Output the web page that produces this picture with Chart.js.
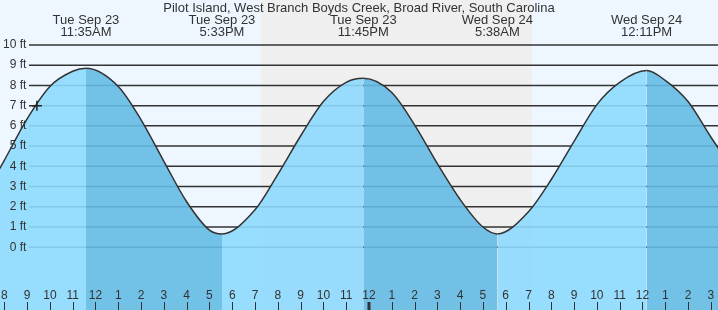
<!DOCTYPE html>
<html>
<head>
<meta charset="utf-8">
<script src="https://cdn.jsdelivr.net/npm/chart.js@4.4.1/dist/chart.umd.min.js"></script>
<style>
  html, body { margin: 0; padding: 0; background: #eef7ff; overflow: hidden; }
  #wrap { width: 718px; height: 310px; }
</style>
</head>
<body>
<div id="wrap"><canvas id="tideChart" width="718" height="310"></canvas></div>
<script>
const chartTitle = 'Pilot Island, West Branch Boyds Creek, Broad River, South Carolina';

// hours counted from Tue Sep 23 00:00
const tideHours = [7, 8, 9, 10, 11, 11.583, 13, 14, 15, 16, 17, 17.55, 19, 20, 21, 22, 23, 23.75,
    25, 26, 27, 28, 29, 29.633, 31, 32, 33, 34, 35, 36.183, 37, 38, 39, 40];
const tideFeet = [2.3, 4.3, 6.35, 7.95, 8.7, 8.85, 7.95, 6.3, 4.25, 2.25, 0.85, 0.66, 1.85, 3.6, 5.5, 7.2, 8.15, 8.35,
    7.65, 6.05, 4.13, 2.36, 1.0, 0.66, 1.76, 3.35, 5.23, 7.05, 8.15, 8.73, 8.25, 7.2, 5.45, 3.8];

const extremeHours = [11.583, 17.55, 23.75, 29.633, 36.183];
const extremeDays = ['Tue Sep 23', 'Tue Sep 23', 'Tue Sep 23', 'Wed Sep 24', 'Wed Sep 24'];
const extremeTimes = ['11:35AM', '5:33PM', '11:45PM', '5:38AM', '12:11PM'];

const nightHours = [19.26, 31.15];
const nowHour = [9.43];
const nowFeet = [7.0];

const hourTicks = [8, 9, 10, 11, 12, 13, 14, 15, 16, 17, 18, 19, 20, 21, 22, 23, 24,
    25, 26, 27, 28, 29, 30, 31, 32, 33, 34, 35, 36, 37, 38, 39];
const feetTicks = [0, 1, 2, 3, 4, 5, 6, 7, 8, 9, 10];

const lightFill = 'rgba(141, 217, 253, 0.9)';
const darkFill = 'rgba(100, 186, 227, 0.9)';
const ink = '#333';
const gridStartX = 29;
const fontFamily = '"Liberation Sans", Arial, sans-serif';

const backdrop = {
    id: 'backdrop',
    beforeDraw(chart) {
        const {ctx, chartArea, scales: {x, y}} = chart;
        ctx.save();
        ctx.fillStyle = '#eef7ff';
        ctx.fillRect(0, 0, chart.width, chart.height);
        const x0 = x.getPixelForValue(nightHours[0]);
        const x1 = x.getPixelForValue(nightHours[1]);
        ctx.fillStyle = '#efefef';
        ctx.fillRect(x0, 0, x1 - x0, chart.height);
        ctx.strokeStyle = ink;
        ctx.lineWidth = 1.5;
        feetTicks.forEach(v => {
            const py = y.getPixelForValue(v);
            ctx.beginPath();
            ctx.moveTo(gridStartX, py);
            ctx.lineTo(chartArea.right, py);
            ctx.stroke();
        });
        ctx.restore();
    }
};

const overlay = {
    id: 'overlay',
    afterDraw(chart) {
        const {ctx, chartArea, scales: {x}} = chart;
        ctx.save();
        ctx.strokeStyle = ink;
        hourTicks.forEach(h => {
            const midnight = h % 24 === 0;
            const px = Math.round(x.getPixelForValue(h)) + (midnight ? 0 : 0.5);
            ctx.lineWidth = midnight ? 3 : 1;
            ctx.beginPath();
            ctx.moveTo(px, chartArea.bottom - 8);
            ctx.lineTo(px, chartArea.bottom);
            ctx.stroke();
        });

        ctx.fillStyle = ink;
        ctx.font = '13px ' + fontFamily;
        ctx.textAlign = 'center';
        ctx.textBaseline = 'alphabetic';
        ctx.fillText(chartTitle, chart.width / 2, 12);
        extremeHours.forEach((h, i) => {
            const px = x.getPixelForValue(h);
            ctx.fillText(extremeDays[i], px, 24);
            ctx.fillText(extremeTimes[i], px, 36);
        });
        ctx.restore();
    }
};

function noPadding(scale) {
    scale.paddingTop = 0;
    scale.paddingBottom = 0;
    scale.paddingLeft = 0;
    scale.paddingRight = 0;
    if (scale.isHorizontal()) {
        scale.height = 0;
    } else {
        scale.width = 0;
    }
}

new Chart(document.getElementById('tideChart'), {
    type: 'line',
    data: {
        datasets: [{
            data: nowHour.map((h, i) => ({x: h, y: nowFeet[i]})),
            order: 0,
            showLine: false,
            fill: false,
            pointStyle: 'cross',
            pointRadius: 5,
            pointBorderColor: '#222',
            pointBorderWidth: 1.5
        }, {
            data: tideHours.map((h, i) => ({x: h, y: tideFeet[i]})),
            order: 1,
            borderColor: ink,
            borderWidth: 1.5,
            pointRadius: 0,
            cubicInterpolationMode: 'monotone',
            fill: 'start',
            backgroundColor: lightFill,
            segment: {
                backgroundColor: c => c.p1.parsed.y < c.p0.parsed.y ? darkFill : lightFill
            }
        }]
    },
    options: {
        responsive: false,
        animation: false,
        devicePixelRatio: 1,
        layout: { padding: 0, autoPadding: false },
        plugins: {
            legend: { display: false },
            tooltip: { enabled: false }
        },
        scales: {
            x: {
                type: 'linear',
                min: 7.81,
                max: 39.315,
                afterBuildTicks: s => { s.ticks = hourTicks.map(v => ({value: v})); },
                afterFit: noPadding,
                grid: { display: false, drawTicks: false },
                border: { display: false },
                ticks: {
                    mirror: true,
                    padding: 0,
                    z: 1,
                    autoSkip: false,
                    maxRotation: 0,
                    color: ink,
                    font: { family: fontFamily, size: 12, lineHeight: '28px' },
                    callback: v => (v % 12) || 12
                }
            },
            y: {
                min: -3.10,
                max: 12.22,
                afterBuildTicks: s => { s.ticks = feetTicks.map(v => ({value: v})); },
                afterFit: noPadding,
                grid: { display: false, drawTicks: false },
                border: { display: false },
                ticks: {
                    mirror: true,
                    padding: 3,
                    crossAlign: 'far',
                    z: 1,
                    color: ink,
                    font: { family: fontFamily, size: 12 },
                    callback: v => v + ' ft'
                }
            }
        }
    },
    plugins: [backdrop, overlay]
});
</script>
</body>
</html>
